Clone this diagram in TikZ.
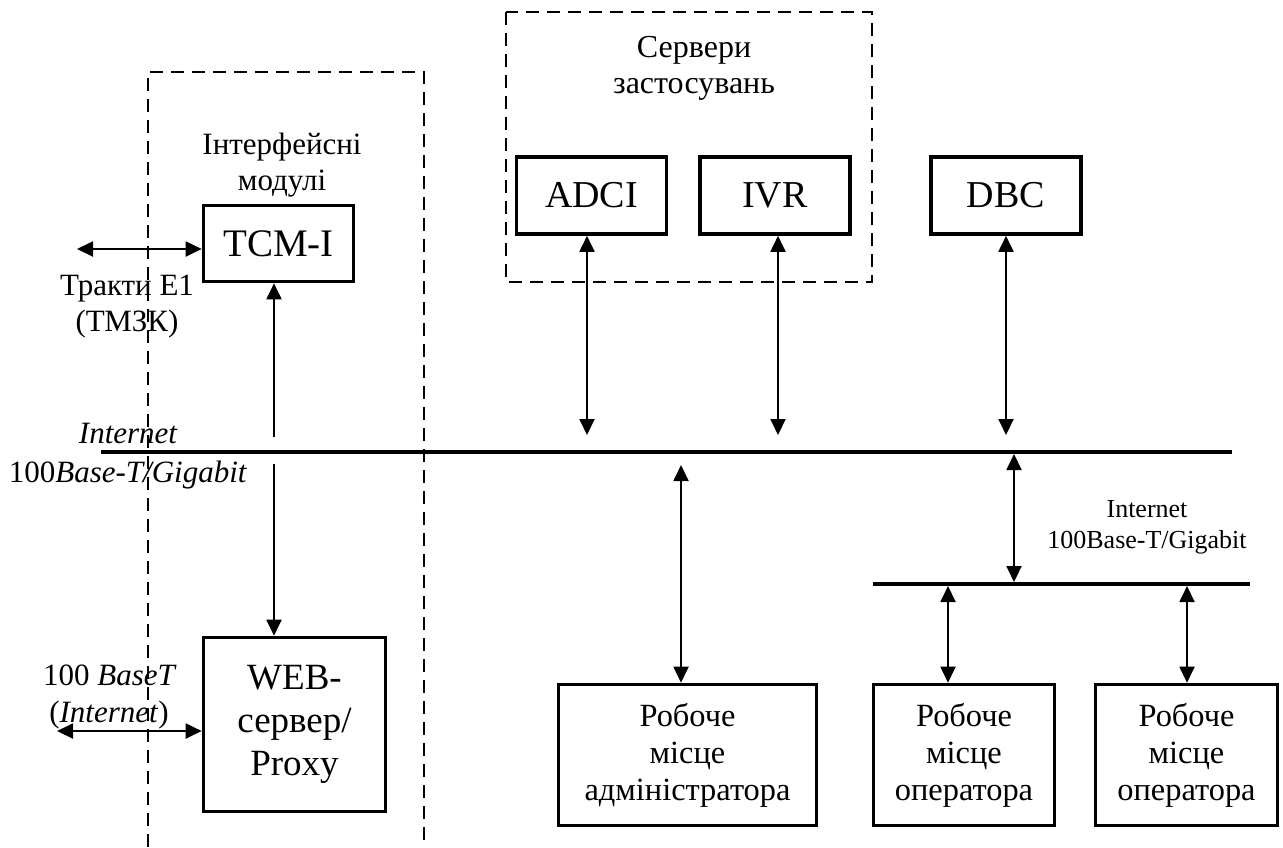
\documentclass[tikz,border=0pt]{standalone}
\usepackage{fontspec}
\setmainfont{Liberation Serif}
\usetikzlibrary{arrows.meta}
\tikzset{
  box/.style={draw, line width=1.8pt, inner sep=0pt, align=center, font=\fontsize{19}{22}\selectfont},
  wsbox/.style={draw, line width=1.8pt, inner sep=0pt, align=center, minimum width=90.5pt, minimum height=70.5pt, font=\fontsize{16.2}{18.5}\selectfont},
  bus/.style={line width=1.8pt},
  tipx/.tip={Triangle[length=8pt,width=7.5pt]},
  conn/.style={line width=0.95pt, tipx-tipx},
  conn1/.style={line width=0.95pt, -tipx},
  grp/.style={line width=0.8pt, dash pattern=on 6.5pt off 4pt},
  lbl/.style={anchor=base, inner sep=0pt, font=\fontsize{15.5}{18.5}\selectfont},
  slbl/.style={anchor=base, inner sep=0pt, font=\fontsize{13}{15}\selectfont},
}
\begin{document}
\begin{tikzpicture}[x=0.5pt,y=-0.5pt]
\useasboundingbox (0,0) rectangle (1283,847);

% dashed groups
\draw[grp] (148,847) -- (148,72) -- (424,72) -- (424,847);
\draw[grp] (506,12) rectangle (872,282);

% group labels
\node[lbl, font=\fontsize{16}{18.5}\selectfont] (serv1) at (694,57) {Сервери};
\node[lbl, font=\fontsize{16}{18.5}\selectfont] (serv2) at (694,93) {застосувань};
\node[lbl] (intf1) at (282,154) {Інтерфейсні};
\node[lbl] (intf2) at (282,190) {модулі};

% boxes
\node[box, minimum width=75pt, minimum height=38pt, font=\fontsize{19.5}{22}\selectfont] (tcm) at (278.5,243.5) {TCM-I};
\node[box, minimum width=75pt, minimum height=38.5pt] (adci) at (591.5,195.5) {ADCI};
\node[box, minimum width=75pt, minimum height=38.5pt] (ivr) at (775,195.5) {IVR};
\node[box, minimum width=75pt, minimum height=38.5pt] (dbc) at (1006,195.5) {DBC};
\node[box, minimum width=91pt, minimum height=87pt, font=\fontsize{18.5}{21.5}\selectfont] (web) at (294.5,724.5) {WEB-\\сервер/\\Proxy};
\node[wsbox, minimum width=129pt] (admin) at (687.5,755) {Робоче\\місце\\адміністратора};
\node[wsbox] (op1) at (964,755) {Робоче\\місце\\оператора};
\node[wsbox, minimum width=91pt] (op2) at (1186.5,755) {Робоче\\місце\\оператора};

% buses
\coordinate (b1l) at (101,452);
\coordinate (b1r) at (1232,452);
\coordinate (b2l) at (873,584);
\coordinate (b2r) at (1250,584);
\draw[bus] (b1l) -- (b1r);
\draw[bus] (b2l) -- (b2r);

% bus labels
\node[lbl, font=\fontsize{15.5}{18.5}\selectfont\itshape] (inet1) at (128,443) {Internet};
\node[lbl] (inet2) at (128,482) {100\textit{Base-T/Gigabit}};
\node[slbl] (inet3) at (1147,517) {Internet};
\node[slbl] (inet4) at (1147,548) {100Base-T/Gigabit};

% external labels
\node[lbl] (e1a) at (127,295) {Тракти Е1};
\node[lbl] (e1b) at (127,331) {(ТМЗК)};
\node[lbl] (bt1) at (110,685) {100 \textit{BaseT}};
\node[lbl] (bt2) at (109,722) {(\textit{Internet})};

% connectors
\coordinate (e1) at (77,249);
\draw[conn] (e1) -- (e1 -| tcm.west);
\coordinate (wl) at (57,731);
\draw[conn] (wl) -- (wl -| web.west);
\coordinate (tup) at (274,437);
\draw[conn1] (tup) -- (tup |- tcm.south);
\coordinate (wdn) at (274,464);
\draw[conn1] (wdn) -- (wdn |- web.north);
\coordinate (adb) at (587,435);
\draw[conn] (adb) -- (adb |- adci.south);
\coordinate (ivb) at (778,435);
\draw[conn] (ivb) -- (ivb |- ivr.south);
\coordinate (dbb) at (1006,435);
\draw[conn] (dbb) -- (dbb |- dbc.south);
\coordinate (adm) at (681,465);
\draw[conn] (adm) -- (adm |- admin.north);
\coordinate (l1) at (1014,454);
\coordinate (l2) at (1014,582);
\draw[conn] (l1) -- (l2);
\coordinate (o1) at (948,586);
\draw[conn] (o1) -- (o1 |- op1.north);
\coordinate (o2) at (1187,586);
\draw[conn] (o2) -- (o2 |- op2.north);
\end{tikzpicture}
\end{document}
